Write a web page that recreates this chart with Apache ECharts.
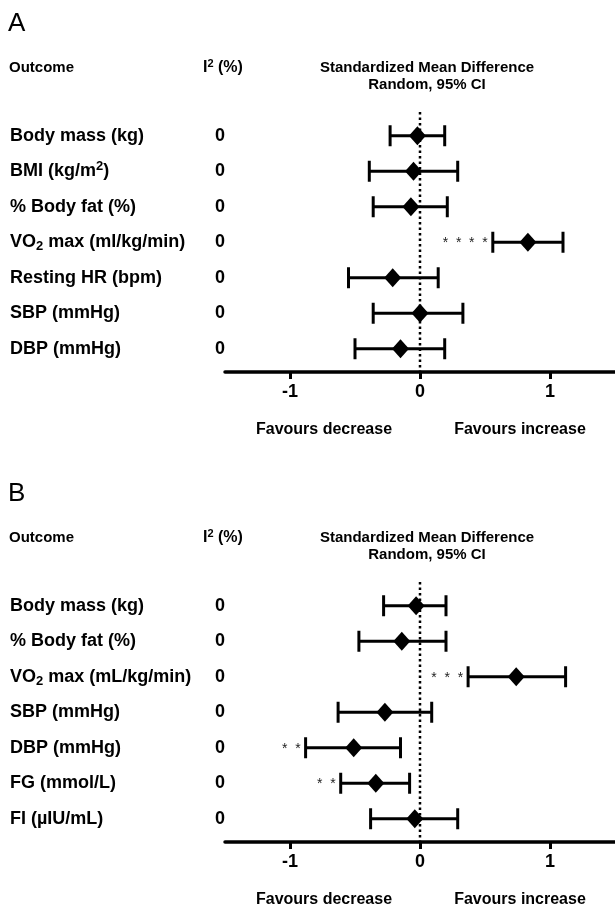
<!DOCTYPE html>
<html>
<head>
<meta charset="utf-8">
<script src="https://cdn.jsdelivr.net/npm/echarts@6/dist/echarts.min.js"></script>
<style>
html,body{margin:0;padding:0;background:#fff;}
#chart{width:615px;height:904px;}
</style>
</head>
<body>
<div id="chart"></div>
<script>
// ---------- Data ----------
const panelLetters = ['A', 'B'];
const headerOutcome = 'Outcome';
const headerI2 = 'I² (%)';
const headerSMD = ['Standardized Mean Difference', 'Random, 95% CI'];
const favourLabels = ['Favours decrease', 'Favours increase'];
const xTicks = [-1, 0, 1];

const outcomesA = ['Body mass (kg)', 'BMI (kg/m²)', '% Body fat (%)', 'VO₂ max (ml/kg/min)', 'Resting HR (bpm)', 'SBP (mmHg)', 'DBP (mmHg)'];
const i2A = ['0', '0', '0', '0', '0', '0', '0'];
const smdA = [-0.02, -0.05, -0.07, 0.83, -0.21, 0.00, -0.15];
const lowA = [-0.23, -0.39, -0.36, 0.56, -0.55, -0.36, -0.50];
const highA = [0.19, 0.29, 0.21, 1.10, 0.14, 0.33, 0.19];
const starsA = ['', '', '', '****', '', '', ''];

const outcomesB = ['Body mass (kg)', '% Body fat (%)', 'VO₂ max (mL/kg/min)', 'SBP (mmHg)', 'DBP (mmHg)', 'FG (mmol/L)', 'FI (µIU/mL)'];
const i2B = ['0', '0', '0', '0', '0', '0', '0'];
const smdB = [-0.03, -0.14, 0.74, -0.27, -0.51, -0.34, -0.04];
const lowB = [-0.28, -0.47, 0.37, -0.63, -0.88, -0.61, -0.38];
const highB = [0.20, 0.20, 1.12, 0.09, -0.15, -0.08, 0.29];
const starsB = ['', '', '***', '', '**', '**', ''];

// ---------- Layout / style ----------
const FONT = '"Liberation Sans", Arial, Helvetica, sans-serif';
const PANEL_DY = 470;
const richStyles = {
  sup: { fontSize: 13, fontWeight: 'bold', fontFamily: FONT, color: '#000', verticalAlign: 'top', lineHeight: 22, padding: [0, 0, 6, 0] },
  sub: { fontSize: 13, fontWeight: 'bold', fontFamily: FONT, color: '#000', verticalAlign: 'bottom', lineHeight: 22, padding: [9, 0, 0, 0] }
};
function toRich(s) {
  return s.replace('²', '{sup|2}').replace('₂', '{sub|2}');
}

const panels = [
  { outcomes: outcomesA, i2: i2A, smd: smdA, low: lowA, high: highA, stars: starsA },
  { outcomes: outcomesB, i2: i2B, smd: smdB, low: lowB, high: highB, stars: starsB }
];

const grids = [], xAxes = [], yAxes = [], series = [], graphics = [];

panels.forEach((p, k) => {
  const dy = k * PANEL_DY;
  grids.push({ left: 225, width: 392, top: 118 + dy, height: 248.5, containLabel: false });
  xAxes.push({
    type: 'value', gridIndex: k, min: -1.5, max: 1.5, offset: 5.5,
    splitLine: { show: false },
    axisLine: { show: true, lineStyle: { color: '#000', width: 3.5 } },
    axisTick: { show: true, customValues: xTicks, length: 7, lineStyle: { color: '#000', width: 3 } },
    axisLabel: { show: true, customValues: xTicks, margin: 11, color: '#000', fontSize: 18, fontWeight: 'bold', fontFamily: FONT }
  });
  yAxes.push({
    type: 'category', gridIndex: k, inverse: true, position: 'left',
    data: p.outcomes,
    axisLine: { show: false }, axisTick: { show: false }, splitLine: { show: false },
    axisLabel: {
      align: 'left', margin: 215, color: '#000', fontSize: 18, fontWeight: 'bold', fontFamily: FONT,
      formatter: v => toRich(v), rich: richStyles
    }
  });
  yAxes.push({
    type: 'category', gridIndex: k, inverse: true, position: 'left', offset: 0,
    data: p.i2,
    axisLine: { show: false }, axisTick: { show: false }, splitLine: { show: false },
    axisLabel: { align: 'center', margin: 5, color: '#000', fontSize: 18, fontWeight: 'bold', fontFamily: FONT }
  });

  // reference dotted line at 0
  series.push({
    type: 'custom', xAxisIndex: k, yAxisIndex: 2 * k, clip: false, silent: true,
    data: [[0]],
    encode: { x: 0 },
    renderItem: (params, api) => {
      const cs = params.coordSys;
      const x = api.coord([api.value(0), 0])[0];
      return {
        type: 'line',
        shape: { x1: x, y1: cs.y - 6, x2: x, y2: cs.y + cs.height + 5 },
        style: { stroke: '#000', lineWidth: 2.5, lineDash: [2.5, 3] }
      };
    },
    z: 1
  });

  // error bars with caps and significance stars
  series.push({
    type: 'custom', xAxisIndex: k, yAxisIndex: 2 * k, clip: false, silent: true,
    data: p.low.map((lo, i) => [lo, p.high[i], i, p.stars[i]]),
    encode: { x: [0, 1], y: 2 },
    dimensions: ['low', 'high', 'row', { name: 'stars', type: 'ordinal' }],
    renderItem: (params, api) => {
      const i = params.dataIndex;
      const a = api.coord([p.low[i], i]);
      const b = api.coord([p.high[i], i]);
      const y = a[1];
      const cap = 10.5;
      const st = { stroke: '#000', lineWidth: 3 };
      const children = [
        { type: 'line', shape: { x1: a[0], y1: y, x2: b[0], y2: y }, style: st },
        { type: 'line', shape: { x1: a[0], y1: y - cap, x2: a[0], y2: y + cap }, style: st },
        { type: 'line', shape: { x1: b[0], y1: y - cap, x2: b[0], y2: y + cap }, style: st }
      ];
      const s = p.stars[i];
      if (s) {
        children.push({
          type: 'text', x: a[0] - 5, y: y + 1,
          style: {
            text: s.split('').join('  '), fill: '#222', fontSize: 14, fontFamily: FONT,
            textAlign: 'right', textVerticalAlign: 'middle', align: 'right', verticalAlign: 'middle'
          }
        });
      }
      return { type: 'group', children };
    },
    z: 2
  });

  // diamonds for point estimates
  series.push({
    type: 'scatter', xAxisIndex: k, yAxisIndex: 2 * k, silent: true,
    symbol: 'diamond', symbolSize: [17, 19],
    itemStyle: { color: '#000', opacity: 1 },
    data: p.smd.map((v, i) => [v, i]),
    z: 3
  });

  // header and footer texts
  const txt = (x, y, text, opts) => graphics.push({
    type: 'text', x, y,
    style: Object.assign({
      text, fill: '#000', fontFamily: FONT, fontSize: 15, fontWeight: 'bold',
      textAlign: 'left', textVerticalAlign: 'middle', align: 'left', verticalAlign: 'middle'
    }, opts || {})
  });
  txt(8, 24 + dy, panelLetters[k], { fontSize: 26, fontWeight: 'normal' });
  txt(9, 68 + dy, headerOutcome);
  txt(203, 68 + dy, toRich(headerI2), {
    fontSize: 16,
    rich: {
      sup: { fontSize: 11, fontWeight: 'bold', fontFamily: FONT, fill: '#000', verticalAlign: 'top', lineHeight: 20, padding: [0, 0, 9, 0] }
    }
  });
  txt(427, 68 + dy, headerSMD[0], { textAlign: 'center', align: 'center' });
  txt(427, 85 + dy, headerSMD[1], { textAlign: 'center', align: 'center' });
  txt(324, 430 + dy, favourLabels[0], { textAlign: 'center', align: 'center', fontSize: 16 });
  txt(520, 430 + dy, favourLabels[1], { textAlign: 'center', align: 'center', fontSize: 16 });
});

const chart = echarts.init(document.getElementById('chart'), null, { renderer: 'canvas' });
chart.setOption({
  backgroundColor: '#fff',
  animation: false,
  textStyle: { fontFamily: FONT },
  grid: grids,
  xAxis: xAxes,
  yAxis: yAxes,
  series,
  graphic: graphics
});
</script>
</body>
</html>
